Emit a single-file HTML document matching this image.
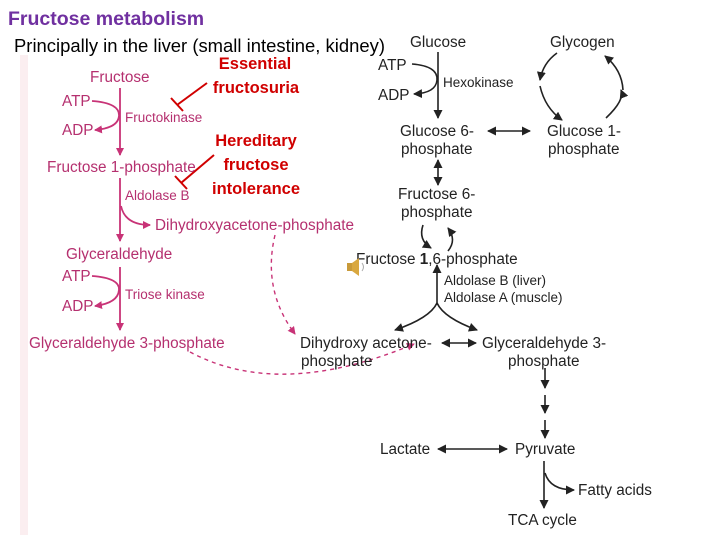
<!DOCTYPE html>
<html><head><style>
body{margin:0;width:720px;height:540px;background:#fff;overflow:hidden}
svg{display:block}
.p{fill:#b5306f;font-family:"Liberation Sans",sans-serif;font-size:15.3px}
.ps{fill:#b5306f;font-family:"Liberation Sans",sans-serif;font-size:13.5px}
.k{fill:#222;font-family:"Liberation Sans",sans-serif;font-size:15.3px}
.ks{fill:#222;font-family:"Liberation Sans",sans-serif;font-size:13.5px}
.r{fill:#d00000;font-family:"Liberation Sans",sans-serif;font-size:16.5px;font-weight:bold}
</style></head><body>
<svg width="720" height="540" viewBox="0 0 720 540" xmlns="http://www.w3.org/2000/svg">
<defs>
<marker id="ap" markerWidth="8" markerHeight="8" refX="7" refY="4" orient="auto" markerUnits="userSpaceOnUse"><path d="M0,0 L8,4 L0,8 Z" fill="#c83377"/></marker>
<marker id="ak" markerWidth="9" markerHeight="9" refX="8" refY="4.5" orient="auto" markerUnits="userSpaceOnUse"><path d="M0,0 L9,4.5 L0,9 Z" fill="#222"/></marker>
<marker id="aks" markerWidth="9" markerHeight="9" refX="1" refY="4.5" orient="auto" markerUnits="userSpaceOnUse"><path d="M9,0 L0,4.5 L9,9 Z" fill="#222"/></marker>
</defs>
<rect x="20" y="55" width="8" height="480" fill="#fbeef0"/>
<text x="8" y="25" font-family="Liberation Sans,sans-serif" font-size="19.5" font-weight="bold" fill="#7030a0">Fructose metabolism</text>
<text x="14" y="52" font-family="Liberation Sans,sans-serif" font-size="18" fill="#000" textLength="371" lengthAdjust="spacingAndGlyphs">Principally in the liver (small intestine, kidney)</text>
<text class="r" x="255" y="69" text-anchor="middle">Essential</text>
<text class="r" x="256" y="93" text-anchor="middle">fructosuria</text>
<text class="r" x="256" y="146" text-anchor="middle">Hereditary</text>
<text class="r" x="256" y="170" text-anchor="middle">fructose</text>
<text class="r" x="256" y="194" text-anchor="middle">intolerance</text>
<line x1="207" y1="83" x2="177" y2="105" stroke="#d00000" stroke-width="2"/>
<line x1="171" y1="98" x2="183" y2="111" stroke="#d00000" stroke-width="2"/>
<line x1="214" y1="155" x2="181" y2="183" stroke="#d00000" stroke-width="2"/>
<line x1="175" y1="176" x2="187" y2="189" stroke="#d00000" stroke-width="2"/>
<g stroke="#c83377" stroke-width="1.8" fill="none">
<line x1="120" y1="88" x2="120" y2="155" marker-end="url(#ap)"/>
<path d="M92,101 Q120,103 119,116 Q118,128 95,130" marker-end="url(#ap)"/>
<line x1="120" y1="178" x2="120" y2="241" marker-end="url(#ap)"/>
<path d="M121,206 Q125,225 150,225" marker-end="url(#ap)"/>
<line x1="120" y1="267" x2="120" y2="330" marker-end="url(#ap)"/>
<path d="M92,276 Q120,278 119,290 Q118,303 95,306" marker-end="url(#ap)"/>
<path d="M275,235 Q262,290 295,334" stroke-dasharray="4,4" stroke-width="1.4" marker-end="url(#ap)"/>
<path d="M190,352 Q280,400 414,344" stroke-dasharray="4,4" stroke-width="1.4" marker-end="url(#ap)"/>
</g>
<text class="p" x="90" y="82">Fructose</text>
<text class="p" x="62" y="106">ATP</text>
<text class="p" x="62" y="135">ADP</text>
<text class="ps" x="125" y="122">Fructokinase</text>
<text class="p" x="47" y="172">Fructose 1-phosphate</text>
<text class="ps" x="125" y="200">Aldolase B</text>
<text class="p" x="155" y="230">Dihydroxyacetone-phosphate</text>
<text class="p" x="66" y="259">Glyceraldehyde</text>
<text class="p" x="62" y="281">ATP</text>
<text class="p" x="62" y="311">ADP</text>
<text class="ps" x="125" y="299">Triose kinase</text>
<text class="p" x="29" y="348">Glyceraldehyde 3-phosphate</text>
<g stroke="#222" stroke-width="1.6" fill="none">
<line x1="438" y1="52" x2="438" y2="118" marker-end="url(#ak)"/>
<path d="M412,64 Q438,66 437,80 Q436,93 414,94" marker-end="url(#ak)"/>
<line x1="488" y1="131" x2="530" y2="131" marker-start="url(#aks)" marker-end="url(#ak)"/>
<line x1="438" y1="160" x2="438" y2="185" marker-start="url(#aks)" marker-end="url(#ak)"/>
<path d="M557,53 Q543,63 540,80" marker-end="url(#ak)"/>
<path d="M540,86 Q545,108 562,120" marker-end="url(#ak)"/>
<path d="M606,118 Q625,100 621,90" marker-end="url(#ak)"/>
<path d="M623,90 Q622,70 605,56" marker-end="url(#ak)"/>
<path d="M423,225 Q418,240 431,248" marker-end="url(#ak)"/>
<path d="M448,251 Q457,240 448,228" marker-end="url(#ak)"/>
<line x1="437" y1="305" x2="437" y2="265" marker-end="url(#ak)"/>
<path d="M437,303 Q430,318 395,330" marker-end="url(#ak)"/>
<path d="M437,303 Q444,318 477,330" marker-end="url(#ak)"/>
<line x1="442" y1="343" x2="476" y2="343" marker-start="url(#aks)" marker-end="url(#ak)"/>
<line x1="545" y1="368" x2="545" y2="388" marker-end="url(#ak)"/>
<line x1="545" y1="395" x2="545" y2="413" marker-end="url(#ak)"/>
<line x1="545" y1="420" x2="545" y2="438" marker-end="url(#ak)"/>
<line x1="438" y1="449" x2="507" y2="449" marker-start="url(#aks)" marker-end="url(#ak)"/>
<line x1="544" y1="461" x2="544" y2="508" marker-end="url(#ak)"/>
<path d="M545,473 Q550,490 574,490" marker-end="url(#ak)"/>
</g>
<text class="k" x="410" y="47">Glucose</text>
<text class="k" x="550" y="47">Glycogen</text>
<text class="k" x="378" y="70">ATP</text>
<text class="k" x="378" y="100">ADP</text>
<text class="ks" x="443" y="87">Hexokinase</text>
<text class="k" x="400" y="136">Glucose 6-</text>
<text class="k" x="401" y="154">phosphate</text>
<text class="k" x="547" y="136">Glucose 1-</text>
<text class="k" x="548" y="154">phosphate</text>
<text class="k" x="398" y="199">Fructose 6-</text>
<text class="k" x="401" y="217">phosphate</text>
<text class="k" x="356" y="264">Fructose <tspan font-weight="bold">1</tspan>,6-phosphate</text>
<text class="ks" x="444" y="285">Aldolase B (liver)</text>
<text class="ks" x="444" y="302">Aldolase A (muscle)</text>
<text class="k" x="300" y="348">Dihydroxy acetone-</text>
<text class="k" x="301" y="366">phosphate</text>
<text class="k" x="482" y="348">Glyceraldehyde 3-</text>
<text class="k" x="508" y="366">phosphate</text>
<text class="k" x="380" y="454">Lactate</text>
<text class="k" x="515" y="454">Pyruvate</text>
<text class="k" x="578" y="495">Fatty acids</text>
<text class="k" x="508" y="525">TCA cycle</text>
<g transform="translate(347,258)">
<rect x="0" y="5" width="5" height="8" fill="#c89a3a"/>
<path d="M5,5 L12,0 L12,18 L5,13 Z" fill="#d9a840"/>
<path d="M15,5 Q18,9 15,13" stroke="#aaa" fill="none"/>
</g>
</svg>
</body></html>
